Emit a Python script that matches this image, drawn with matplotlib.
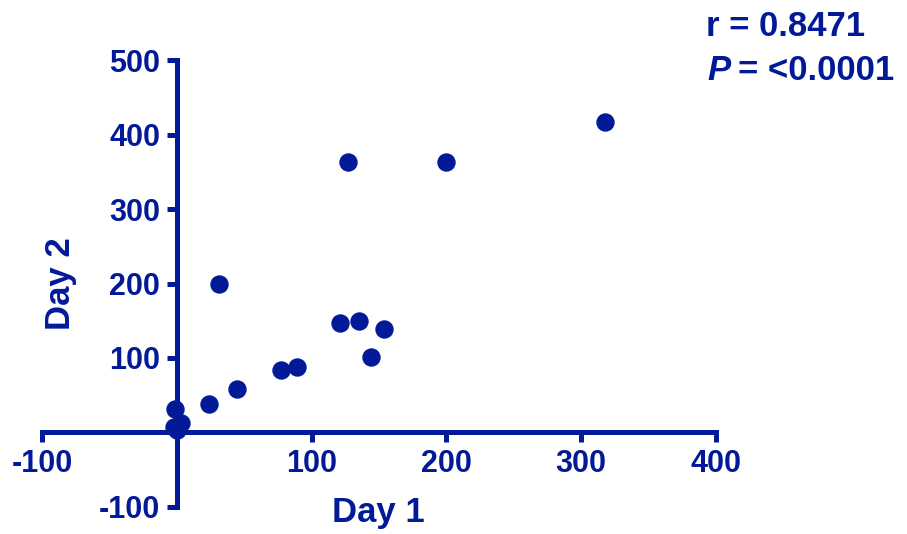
import matplotlib.pyplot as plt

# Day 1 vs Day 2 values
day1 = [127, 200, 318, 31, 121, 135, 154, 144, 89, 77, 45, 24, -1, 3, -2, 0]
day2 = [363, 363, 417, 200, 147, 150, 139, 102, 88, 84, 59, 38, 32, 13, 7, 3]

x_ticks = [-100, 100, 200, 300, 400]
y_ticks = [-100, 100, 200, 300, 400, 500]

navy = '#021A98'
plt.rcParams['font.family'] = ['Liberation Sans', 'DejaVu Sans']
plt.rcParams['font.weight'] = 'bold'
plt.rcParams['axes.unicode_minus'] = False

fig = plt.figure(figsize=(9.07, 5.34), dpi=100)
ax = fig.add_axes([0.0463, 0.0506, 0.743, 0.837])

ax.scatter(day1, day2, s=150, color=navy, zorder=3, clip_on=False)

ax.set_xlim(-100, 400)
ax.set_ylim(-100, 500)

# axes cross at the origin
ax.spines['left'].set_position(('data', 0))
ax.spines['bottom'].set_position(('data', 0))
ax.spines['top'].set_visible(False)
ax.spines['right'].set_visible(False)
for s in ['left', 'bottom']:
    ax.spines[s].set_linewidth(3.6)
    ax.spines[s].set_color(navy)

ax.set_xticks(x_ticks)
ax.set_yticks(y_ticks)
ax.tick_params(axis='both', direction='out', length=7, width=3.6, color=navy,
               labelcolor=navy, labelsize=22, pad=5)

ax.set_xlabel('Day 1', fontsize=25, fontweight='bold', color=navy)
ax.xaxis.set_label_coords(0.4985, -0.012)
ax.xaxis.label.set_va('center')
ax.set_ylabel('Day 2', fontsize=25, fontweight='bold', color=navy)
ax.yaxis.set_label_coords(0.027, 0.499)
ax.yaxis.label.set_va('center')

fig.text(706 / 907, 1 - 27 / 534, 'r = 0.8471', fontsize=25, fontweight='bold',
         color=navy, ha='left', va='center')
fig.text(707 / 907, 1 - 71 / 534, 'P', fontsize=25, fontweight='bold',
         fontstyle='italic', color=navy, ha='left', va='center')
fig.text(738 / 907, 1 - 71 / 534, '= <0.0001', fontsize=25, fontweight='bold',
         color=navy, ha='left', va='center')

fig.savefig('out.png', dpi=100)
